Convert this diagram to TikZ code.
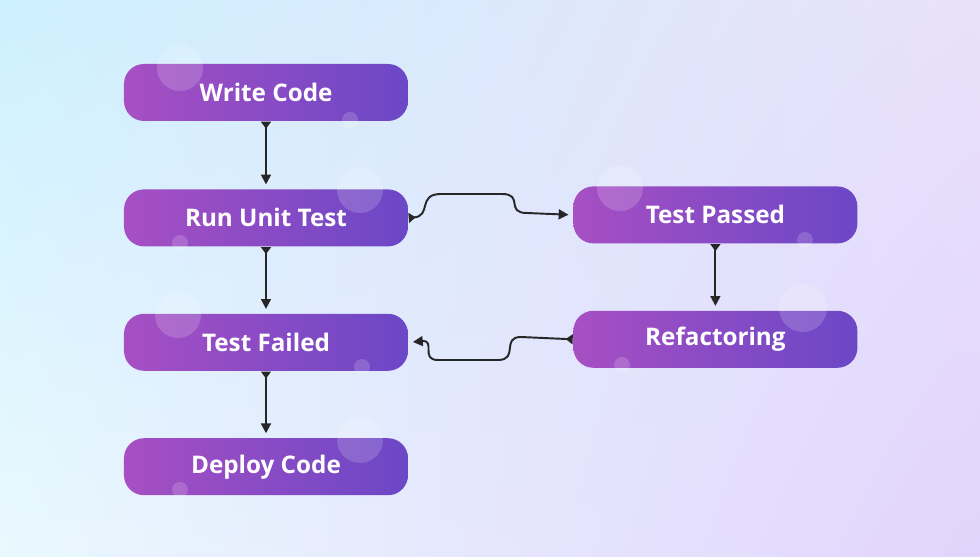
\documentclass[tikz,border=0pt]{standalone}
\usepackage{fontspec}
\setmainfont{Open Sans}
\usepackage{tikz}
\usetikzlibrary{positioning,arrows.meta,shadings}
\definecolor{bgUL}{HTML}{CDF0FE}
\definecolor{bgUR}{HTML}{E9E1FB}
\definecolor{bgLL}{HTML}{EAF9FE}
\definecolor{bgLR}{HTML}{E2D4FC}
\definecolor{stageL}{HTML}{A74FC3}
\definecolor{stageR}{HTML}{6B47C6}
\tikzset{
	stage/.style={rectangle, rounded corners=0.2cm, minimum width=2.84cm, minimum height=0.57cm, inner sep=0pt,
		left color=stageL, right color=stageR, text=white, font=\fontsize{6.9}{8}\selectfont\bfseries},
	flow/.style={line width=0.55pt, black!85, {Triangle[reversed,length=2pt,width=2.8pt]}-{Triangle[length=2.8pt,width=2.8pt]}, shorten >=1.2pt},
	bubble/.style={fill=white, opacity=0.17}
}

\begin{document}
\begin{tikzpicture}
		%Background
		\useasboundingbox (0,0) rectangle (9.8,5.57);
		\shade[upper left=bgUL, upper right=bgUR, lower left=bgLL, lower right=bgLR] (0,0) rectangle (9.8,5.57);
		%Left column
		\node[stage] (write) at (2.66,4.645) {Write Code};
		\node[stage, below=0.67cm of write] (run) {Run Unit Test};
		\node[stage, below=0.66cm of run] (failed) {Test Failed};
		\node[stage, below=0.66cm of failed] (deploy) {Deploy Code};
		%Right column
		\node[stage, right=1.64cm of run, yshift=0.03cm] (passed) {Test Passed};
		\node[stage, below=0.66cm of passed] (refac) {Refactoring};
		%Bubbles
		\fill[bubble] (1.80,4.89) circle (0.23);
		\fill[bubble] (3.50,4.37) circle (0.08);
		\fill[bubble] (3.60,3.67) circle (0.23);
		\fill[bubble] (1.80,3.14) circle (0.08);
		\fill[bubble] (1.78,2.42) circle (0.23);
		\fill[bubble] (3.62,1.90) circle (0.08);
		\fill[bubble] (3.60,1.17) circle (0.23);
		\fill[bubble] (1.80,0.67) circle (0.08);
		\fill[bubble] (6.20,3.69) circle (0.23);
		\fill[bubble] (8.05,3.17) circle (0.08);
		\fill[bubble] (8.03,2.49) circle (0.24);
		\fill[bubble] (6.22,1.92) circle (0.08);
		%Arrows
		\draw[flow] (write) -- (run);
		\draw[flow] (run) -- (failed);
		\draw[flow] (failed) -- (deploy);
		\draw[flow] (passed) -- (refac);
		\draw[flow] (run.east) .. controls (4.32,3.41) and (4.17,3.63) .. (4.41,3.63) -- (5.02,3.63) .. controls (5.24,3.63) and (5.05,3.44) .. (5.27,3.44) -- (passed.west);
		\draw[flow] (refac.west) -- (5.21,2.20) .. controls (5.01,2.20) and (5.19,1.97) .. (4.98,1.97) -- (4.38,1.97) .. controls (4.20,1.97) and (4.36,2.17) .. (failed.east);
		\end{tikzpicture}
\end{document}
